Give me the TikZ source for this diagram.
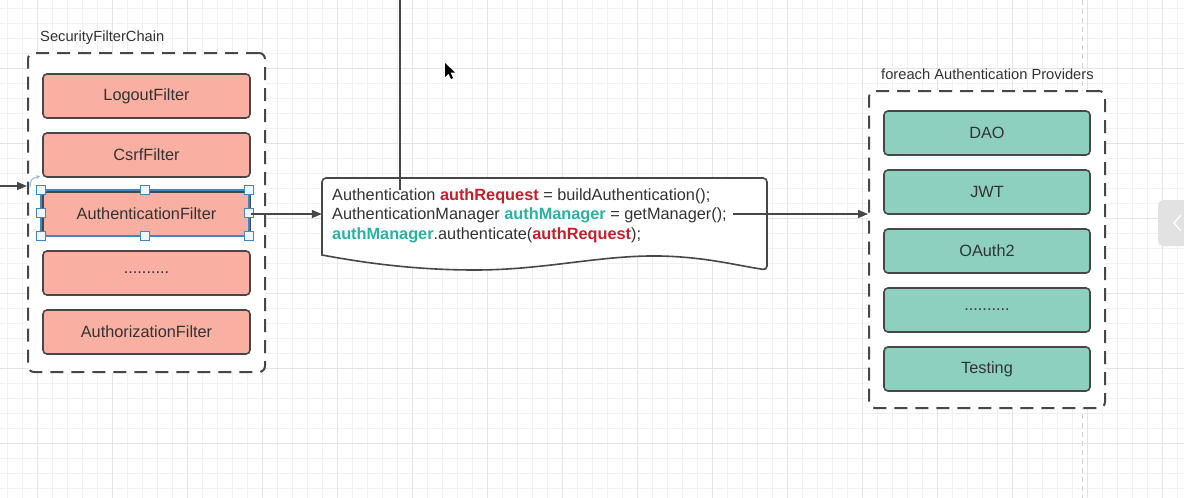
\documentclass[tikz,border=0pt]{standalone}
\usepackage{fontspec}
\setmainfont{Liberation Sans}
\usetikzlibrary{arrows.meta}
\definecolor{bd}{HTML}{474747}
\definecolor{txt}{HTML}{333333}
\definecolor{salmon}{HTML}{F9B0A2}
\definecolor{teal}{HTML}{8DD0C0}
\definecolor{kred}{HTML}{C41F2B}
\definecolor{kteal}{HTML}{27B39F}
\definecolor{gridminor}{HTML}{F1F1F1}
\definecolor{gridmajor}{HTML}{E4E4E4}
\definecolor{selblue}{HTML}{3F86C2}
\definecolor{tabgray}{HTML}{E2E2E2}
\tikzset{
  filt/.style={draw=bd, line width=1.6pt, fill=salmon, rounded corners=4pt,
    minimum width=207pt, minimum height=44pt, inner sep=0pt,
    font=\fontsize{16.3}{19}\selectfont, text=txt},
  prov/.style={filt, fill=teal, minimum width=206pt},
  container/.style={draw=bd, line width=2pt, fill=white, rounded corners=6pt,
    dash pattern=on 13pt off 8pt, inner sep=0pt},
  title/.style={anchor=west, inner sep=0pt, font=\fontsize{14.7}{17}\selectfont, text=txt},
  conn/.style={draw=bd, line width=1.3pt},
  arr/.style={conn, -{Triangle[length=10pt, width=8pt]}},
  handle/.style={draw=selblue, fill=selblue!8, line width=1pt, minimum size=9pt, inner sep=0pt},
}
\begin{document}
\begin{tikzpicture}[x=1pt,y=-1pt]
\useasboundingbox (0,0) rectangle (1184,498);
\fill[white] (0,0) rectangle (1184,498);
% grid
\foreach \x in {7,22,...,1184} \draw[gridminor, line width=0.8pt] (\x,0) -- (\x,498);
\foreach \y in {8,23,...,498} \draw[gridminor, line width=0.8pt] (0,\y) -- (1184,\y);
\foreach \x in {37,112,...,1184} \draw[gridmajor, line width=1pt] (\x,0) -- (\x,498);
\foreach \y in {68,143,...,498} \draw[gridmajor, line width=1pt] (0,\y) -- (1184,\y);
% page boundary
\draw[gray!35, line width=1pt, dash pattern=on 5pt off 4pt] (1082,0) -- (1082,498);
% containers
\node[container, minimum width=237pt, minimum height=319pt] (chain) at (146.5,212.5) {};
\node[container, minimum width=236pt, minimum height=317pt] (provs) at (987,249.5) {};
\node[title] (chaint) at (40,38) {SecurityFilterChain};
\node[title] (provt) at (881,74) {foreach Authentication Providers};
% filters
\node[filt] (logout) at (146.5,96) {LogoutFilter};
\node[filt] (csrf) at (146.5,155) {CsrfFilter};
\node[filt] (authf) at (146.5,214) {AuthenticationFilter};
\node[filt] (dots1) at (146.5,273) {..........};
\node[filt] (authz) at (146.5,332) {AuthorizationFilter};
% providers
\node[prov] (dao) at (987,133) {DAO};
\node[prov] (jwt) at (987,192) {JWT};
\node[prov] (oauth) at (987,251) {OAuth2};
\node[prov] (dots2) at (987,310) {..........};
\node[prov] (testing) at (987,369) {Testing};
% selection
\draw[selblue, line width=1.2pt] (41,190) rectangle (249,236);
\foreach \p in {(41,190),(145,190),(249,190),(41,213),(249,213),(41,236),(145,236),(249,236)}
  \node[handle] at \p {};
\draw[selblue!55, line width=1pt, -{Stealth[length=4pt,width=4pt]}] (30,187) .. controls (31,179) .. (40,176);
% document shape
\node[minimum width=445pt, minimum height=72pt, inner sep=0pt] (doc) at (544.5,214) {};
\draw[bd, line width=1.6pt, fill=white, rounded corners=4pt]
  (322,255) -- (322,178) -- (767,178) -- (767,270) [sharp corners]
  .. controls (735,265) and (705,257) .. (660,256)
  .. controls (600,255) and (545,270) .. (475,270)
  .. controls (420,270) and (370,264) .. (322,255) -- cycle;
\node[anchor=north west, align=left, inner sep=0pt, text=txt,
  font=\fontsize{16.3}{19.5}\selectfont] (code) at (332,188)
  {Authentication \textbf{\color{kred}authRequest} = buildAuthentication();\\
   AuthenticationManager \textbf{\color{kteal}authManager} = getManager();\\
   \textbf{\color{kteal}authManager}.authenticate(\textbf{\color{kred}authRequest});};
% connectors
\coordinate (topstart) at (400,0);
\coordinate (topend) at (400,190);
\draw[conn] (topstart) -- (topend);
\coordinate (inarrow) at (0,186);
\draw[arr] (inarrow) -- (inarrow -| chain.west);
\draw[arr] (authf.east) -- (doc.west);
\coordinate (codeout) at (733,214);
\draw[arr] (codeout) -- (codeout -| provs.west);
% UI tab
\fill[tabgray, rounded corners=5pt] (1158,200) rectangle (1196,246);
\draw[white, line width=1.3pt] (1181,215) -- (1174,223) -- (1181,231);
% cursor
\fill[black] (445,63) -- (445,77) -- (448.5,73.5) -- (451,79) -- (453,78) -- (450.5,72.5) -- (455,72.5) -- cycle;
\end{tikzpicture}
\end{document}
